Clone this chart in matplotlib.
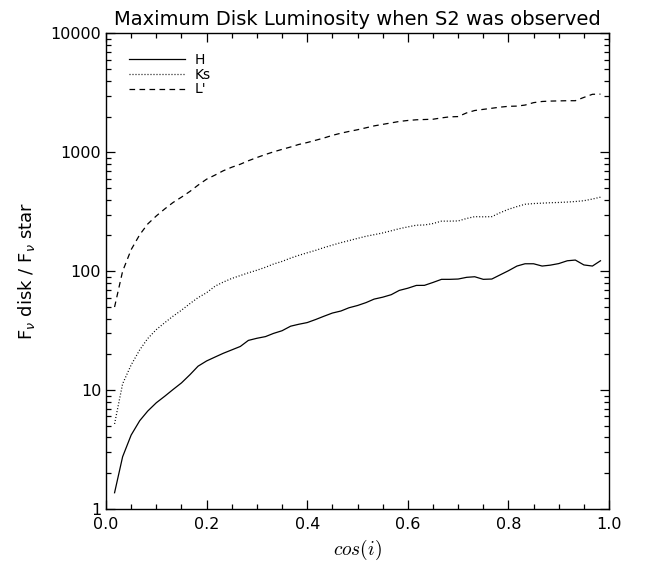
import matplotlib
matplotlib.use("Agg")
import matplotlib.pyplot as plt
from matplotlib.ticker import FixedLocator, LogLocator, NullFormatter, FuncFormatter

# cos(i) grid (the model was sampled every 1/60)
cos_i = [0.017, 0.033, 0.050, 0.067, 0.083, 0.100, 0.117, 0.133, 0.150, 0.167,
         0.183, 0.200, 0.217, 0.233, 0.250, 0.267, 0.283, 0.300, 0.317, 0.333,
         0.350, 0.367, 0.383, 0.400, 0.417, 0.433, 0.450, 0.467, 0.483, 0.500,
         0.517, 0.533, 0.550, 0.567, 0.583, 0.600, 0.617, 0.633, 0.650, 0.667,
         0.683, 0.700, 0.717, 0.733, 0.750, 0.767, 0.783, 0.800, 0.817, 0.833,
         0.850, 0.867, 0.883, 0.900, 0.917, 0.933, 0.950, 0.967, 0.983]

ratio_H = [1.37, 2.75, 4.19, 5.53, 6.67, 7.83, 8.9, 10.1, 11.5, 13.5,
           15.9, 17.6, 19.0, 20.4, 21.8, 23.3, 26.2, 27.3, 28.2, 30.0,
           31.6, 34.5, 35.8, 37.0, 39.3, 41.8, 44.5, 46.3, 49.3, 51.5,
           54.5, 58.3, 60.5, 63.5, 69.0, 72.0, 76.0, 76.1, 80.5, 85.5,
           85.5, 86.0, 88.9, 89.9, 85.5, 86.0, 93.0, 101, 110.6, 115.6,
           115.6, 110.6, 112.5, 116, 122.5, 124.2, 113, 110.6, 122.5]

ratio_Ks = [5.2, 11.3, 16.3, 21.8, 27.2, 32.3, 37.0, 41.8, 47, 53.5,
            60, 66, 75, 81, 87, 92, 97, 102, 108, 115,
            121, 129, 136, 143, 150, 158, 166, 174, 181, 189,
            197, 203, 210, 219, 228, 236, 244, 245, 252, 264,
            264, 265, 278, 288, 287, 288, 310, 332, 350, 366,
            371, 374, 377, 379, 382, 386, 392, 405, 420]

ratio_L = [50, 100, 152, 203, 250, 292, 335, 378, 420, 470,
           530, 595, 645, 700, 750, 795, 850, 905, 960, 1010,
           1060, 1110, 1165, 1210, 1265, 1320, 1390, 1450, 1500, 1550,
           1610, 1670, 1720, 1770, 1820, 1855, 1880, 1890, 1900, 1950,
           1990, 2000, 2150, 2250, 2300, 2350, 2400, 2440, 2450, 2500,
           2620, 2680, 2700, 2710, 2720, 2720, 2900, 3080, 3090]

x_ticks = [0.0, 0.2, 0.4, 0.6, 0.8, 1.0]
y_ticks = [1, 10, 100, 1000, 10000]

fig = plt.figure(figsize=(6.56, 5.62), dpi=100)
ax = fig.add_axes([0.1616, 0.0943, 0.7668, 0.8461])

ax.plot(cos_i, ratio_H, color='black', lw=0.9, label='H')
ax.plot(cos_i, ratio_Ks, color='black', lw=0.9, dashes=(0.8, 1.6), label='Ks')
ax.plot(cos_i, ratio_L, color='black', lw=0.9, dashes=(4.5, 3.5), label="L'")

ax.set_yscale('log')
ax.set_xlim(0, 1)
ax.set_ylim(1, 10000)

ax.xaxis.set_major_locator(FixedLocator(x_ticks))
ax.xaxis.set_minor_locator(FixedLocator([i * 0.05 for i in range(21)]))
ax.yaxis.set_major_locator(FixedLocator(y_ticks))
ax.yaxis.set_minor_locator(LogLocator(base=10, subs=range(2, 10)))
ax.yaxis.set_minor_formatter(NullFormatter())
ax.yaxis.set_major_formatter(FuncFormatter(lambda v, p: '%d' % v))
ax.xaxis.set_major_formatter(FuncFormatter(lambda v, p: '%.1f' % v))

ax.tick_params(which='both', direction='in', top=True, right=True,
               labelsize=11.5, width=0.9)
ax.tick_params(which='major', length=6.5)
ax.tick_params(which='minor', length=3.5)
ax.tick_params(axis='x', pad=6)
ax.tick_params(axis='y', pad=3.5)
for s in ax.spines.values():
    s.set_linewidth(1.0)

ax.set_title('Maximum Disk Luminosity when S2 was observed', fontsize=14, pad=6)
ax.set_xlabel('$cos(i)$', fontsize=14, math_fontfamily='cm', labelpad=4)
ax.set_ylabel(r'F$_\nu$ disk / F$_\nu$ star', fontsize=13, labelpad=10)

ax.legend(loc='upper left', bbox_to_anchor=(0.046, 0.959), frameon=False,
          fontsize=10, handlelength=4.0, handletextpad=0.7, labelspacing=0.05,
          borderpad=0, borderaxespad=0)

fig.savefig('out.png', dpi=100)
